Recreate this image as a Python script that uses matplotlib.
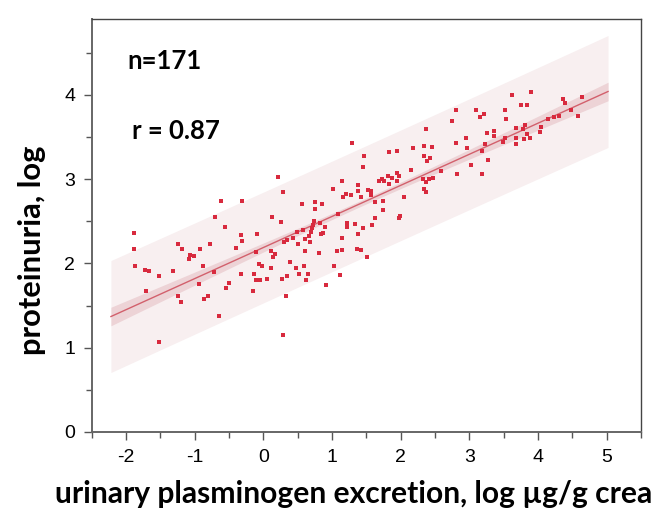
import numpy as np
import matplotlib
matplotlib.use("Agg")
import matplotlib.pyplot as plt

# ---- data ----
plasminogen_log = [
    -0.622, -0.307, -0.705, -0.554, -1.886, -0.322, -0.089, -1.886, -1.237, -1.184,
    -0.917, -0.772, -0.404, -0.317, -1.072, -1.014, -1.087, -0.110, -1.867, -1.730,
    -1.663, -1.518, -1.319, -0.884, -0.720, -0.332, -0.143, -0.070, -0.023, -0.110,
    -0.052, -1.716, -0.937, -0.506, -0.539, -0.158, -1.237, -1.203, -0.869, -0.801,
    -0.651, -1.518,
    0.060, 0.210, 0.293, 0.129, 0.558, 0.757, 0.757, 0.855, 1.009, 1.139,
    1.372, 1.203, 1.276, 1.160, 1.382, 1.290, 1.469, 1.454, 1.520, 1.571,
    1.571, 1.421, 1.087, 0.259, 0.743, 0.820, 0.728, 1.222, 1.338, 1.222,
    0.892, 0.709, 0.573, 0.486, 0.695, 0.869, 0.840, 1.377, 0.660, 0.346,
    0.307, 0.438, 0.612, 0.675, 0.510, 1.139, 0.114, 0.176, 0.143, 0.608,
    0.805, 1.067, 1.145, 1.357, 0.394, 0.114, 0.477, 0.593, 1.029, 0.525,
    0.646, 0.346, 1.120, 0.274, 0.627, 0.907, 0.326, 0.293,
    2.365, 1.836, 1.953, 2.185, 2.336, 2.452, 2.336, 2.423, 2.384, 2.156,
    2.583, 1.953, 1.822, 1.876, 1.973, 1.726, 1.687, 1.759, 1.953, 1.836,
    2.330, 2.365, 2.417, 2.467, 2.336, 2.369, 2.050, 1.740, 1.624, 1.740,
    1.624, 1.987, 1.973, 1.454, 1.585, 1.421, 1.508,
    2.805, 2.747, 3.100, 3.216, 3.149, 3.516, 3.531, 3.618, 3.749, 3.846,
    3.898, 2.805, 2.950, 2.965, 2.815, 3.018, 3.183, 3.265, 3.187, 3.230,
    3.251, 3.352, 3.352, 3.483, 3.516, 3.681, 3.681, 3.681, 3.785, 3.817,
    3.846, 3.880, 3.797, 4.044, 4.029, 4.145, 4.232, 4.311, 4.363, 4.398,
    4.479, 4.577, 4.645,
]
proteinuria_log = [
    2.745, 2.745, 2.555, 2.430, 2.358, 2.342, 2.354, 2.168, 2.231, 2.168,
    2.168, 2.228, 2.180, 2.267, 2.104, 2.092, 2.053, 2.133, 1.967, 1.926,
    1.914, 1.855, 1.914, 1.967, 1.903, 1.875, 1.875, 1.990, 1.967, 1.801,
    1.801, 1.677, 1.753, 1.765, 1.713, 1.677, 1.614, 1.539, 1.575, 1.614,
    1.373, 1.072,
    1.816, 3.027, 2.849, 2.546, 2.710, 2.734, 2.647, 2.710, 2.884, 2.976,
    2.935, 2.821, 2.809, 2.786, 2.860, 3.427, 3.276, 3.139, 2.872, 2.864,
    2.813, 2.786, 2.585, 2.493, 2.508, 2.481, 2.457, 2.481, 2.469, 2.433,
    2.433, 2.421, 2.401, 2.377, 2.377, 2.358, 2.347, 2.347, 2.330, 2.282,
    2.255, 2.306, 2.294, 2.259, 2.231, 2.303, 2.152, 2.116, 2.077, 2.145,
    2.128, 2.148, 2.157, 2.168, 2.018, 1.943, 1.943, 1.974, 1.967, 1.879,
    1.879, 1.852, 1.863, 1.816, 1.804, 1.741, 1.611, 1.151,
    3.593, 3.327, 3.339, 3.367, 3.391, 3.379, 3.276, 3.249, 3.213, 3.113,
    3.101, 3.074, 3.035, 3.011, 3.038, 3.003, 2.976, 2.976, 2.976, 2.940,
    2.999, 2.971, 2.999, 3.011, 2.884, 2.849, 2.786, 2.745, 2.726, 2.635,
    2.543, 2.567, 2.543, 2.421, 2.457, 2.157, 2.081,
    3.818, 3.691, 3.818, 3.778, 3.742, 3.818, 3.715, 3.996, 3.881, 3.881,
    4.032, 3.430, 3.489, 3.374, 3.062, 3.165, 3.062, 3.228, 3.339, 3.415,
    3.545, 3.576, 3.513, 3.438, 3.486, 3.605, 3.493, 3.415, 3.593, 3.644,
    3.533, 3.493, 3.478, 3.616, 3.564, 3.719, 3.742, 3.754, 3.956, 3.905,
    3.818, 3.754, 3.980,
]

# regression line and bands
fit_x_range = [-2.22, 5.02]
fit_y_range = [1.37, 4.04]
pred_halfwidth = 0.655      # 95% prediction band
ci_halfwidth_min = 0.035    # narrowest confidence band (at centre)
ci_halfwidth_end = 0.11     # confidence band at the ends

n_label = "n=171"
r_label = "r = 0.87"
x_ticks = [-2, -1, 0, 1, 2, 3, 4, 5]
y_ticks = [0, 1, 2, 3, 4]
xlabel = "urinary plasminogen excretion, log µg/g crea"
ylabel = "proteinuria, log"

# ---- drawing ----
W, H = 652, 512
fig = plt.figure(figsize=(W / 100, H / 100), dpi=100)
ax = fig.add_axes([91.7 / W, 1 - 432 / H, (641 - 91.7) / W, (432 - 19) / H])

slope = (fit_y_range[1] - fit_y_range[0]) / (fit_x_range[1] - fit_x_range[0])
xc = 0.5 * (fit_x_range[0] + fit_x_range[1])
xs = np.linspace(fit_x_range[0], fit_x_range[1], 200)
ys = fit_y_range[0] + slope * (xs - fit_x_range[0])
half_span = fit_x_range[1] - xc
k2 = (ci_halfwidth_end ** 2 - ci_halfwidth_min ** 2) / half_span ** 2
ci = np.sqrt(ci_halfwidth_min ** 2 + k2 * (xs - xc) ** 2)
pi = np.sqrt(pred_halfwidth ** 2 + ci ** 2)

ax.fill_between(xs, ys - pi, ys + pi, color="#f8eff0", lw=0, zorder=1)
ax.fill_between(xs, ys - ci, ys + ci, color="#edd3d6", lw=0, zorder=2)
ax.plot(xs, ys, color="#d2606c", lw=1.0, zorder=3)
ax.scatter(plasminogen_log, proteinuria_log, s=6, marker="s", color="#d82a3e",
           lw=0, zorder=4)

ax.set_xlim(-2.5, 5.5)
ax.set_ylim(0, 4.9)
ax.set_xticks(x_ticks)
ax.set_yticks(y_ticks)
ax.set_xticks(np.arange(-2.5, 5.6, 0.5), minor=True)
ax.set_yticks(np.arange(0, 4.9, 0.5), minor=True)
ax.set_xticklabels([str(t) for t in x_ticks])
ax.tick_params(which="major", direction="out", length=6, width=1.0, color="#555555",
               labelsize=14, pad=6)
ax.tick_params(which="minor", direction="out", length=4, width=1.0, color="#555555")
for lab in ax.get_xticklabels() + ax.get_yticklabels():
    lab.set_fontfamily("Liberation Sans")
for side in ["top", "right"]:
    ax.spines[side].set_color("#444444")
    ax.spines[side].set_linewidth(1.0)
for side in ["left", "bottom"]:
    ax.spines[side].set_color("#666666")
    ax.spines[side].set_linewidth(1.4)

ax.text(127 / W, 1 - 61 / H, n_label, transform=fig.transFigure, fontsize=18.5,
        fontweight="bold", fontfamily="Lato", va="center", ha="left")
ax.text(132 / W, 1 - 131 / H, r_label, transform=fig.transFigure, fontsize=18.5,
        fontweight="bold", fontfamily="Lato", va="center", ha="left")

fig.text(32.5 / W, 1 - 250 / H, ylabel, rotation=90, fontsize=22.2, fontweight="bold",
         fontfamily="Lato", ha="center", va="center")
fig.text(55 / W, 1 - 494 / H, xlabel, fontsize=21.6, fontweight="bold",
         fontfamily="Lato", ha="left", va="center")

fig.savefig("out.png", dpi=100)
